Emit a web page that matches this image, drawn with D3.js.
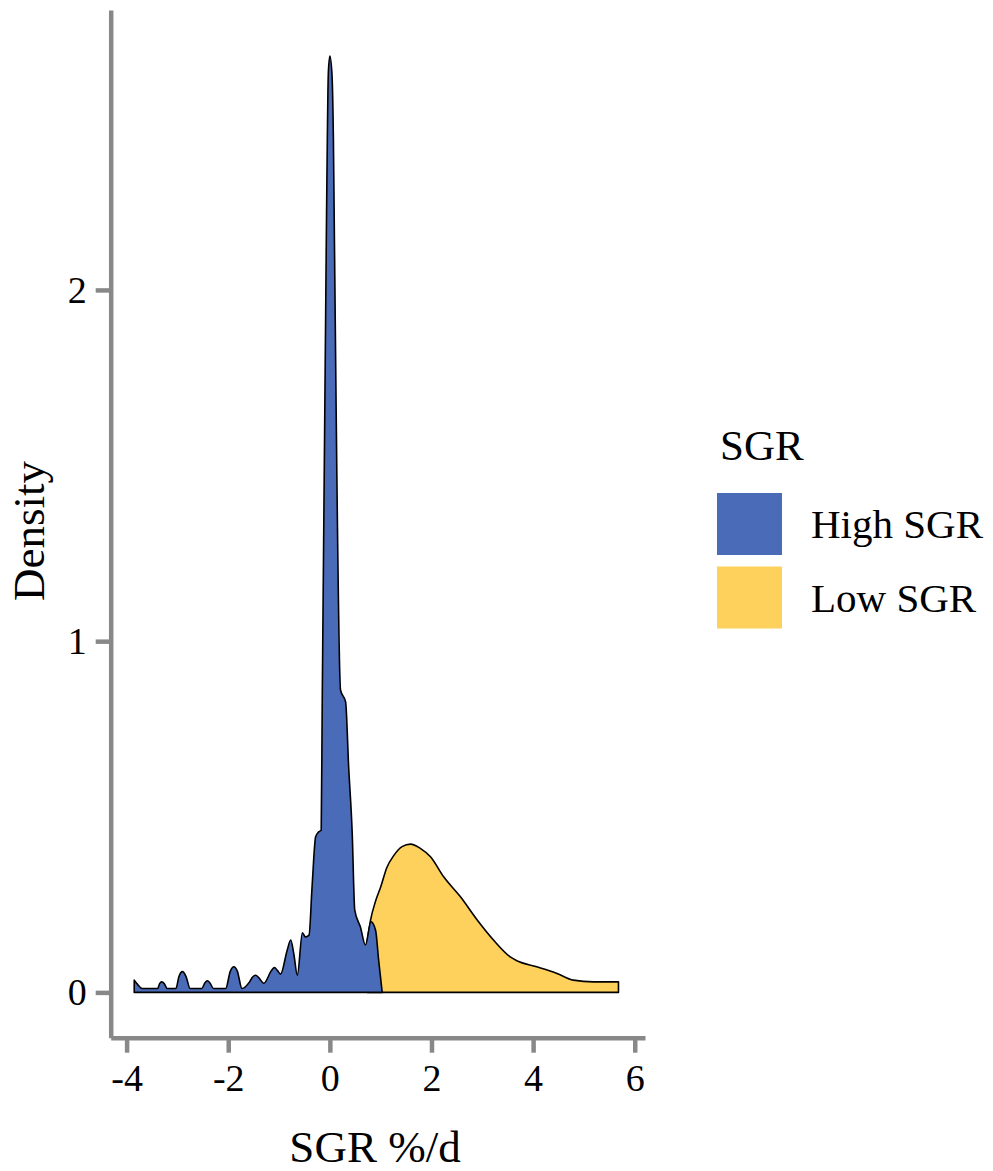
<!DOCTYPE html>
<html>
<head>
<meta charset="utf-8">
<script src="https://cdn.jsdelivr.net/npm/d3@7"></script>
<style>
  body { margin: 0; background: #fff; }
  text { font-family: "Liberation Serif", "Times New Roman", serif; fill: #000; }
</style>
</head>
<body>
<div id="chart"></div>
<script>
// density values: [SGR %/d, density]
var highSGR = [
  [-3.85, 0.035], [-3.78, 0.022], [-3.69, 0.011], [-3.39, 0.011], [-3.35, 0.025],
  [-3.31, 0.030], [-3.26, 0.025], [-3.20, 0.011], [-3.03, 0.011], [-2.97, 0.045],
  [-2.90, 0.059], [-2.83, 0.045], [-2.75, 0.011], [-2.52, 0.011], [-2.46, 0.027],
  [-2.41, 0.033], [-2.36, 0.027], [-2.29, 0.011], [-2.05, 0.011], [-1.96, 0.060],
  [-1.89, 0.073], [-1.82, 0.060], [-1.73, 0.011], [-1.58, 0.030], [-1.52, 0.044],
  [-1.46, 0.049], [-1.40, 0.042], [-1.30, 0.026], [-1.15, 0.062], [-1.09, 0.071],
  [-1.03, 0.062], [-0.97, 0.052], [-0.84, 0.120], [-0.77, 0.149], [-0.71, 0.110],
  [-0.64, 0.049], [-0.54, 0.170], [-0.48, 0.158], [-0.41, 0.163], [-0.35, 0.301],
  [-0.28, 0.443], [-0.22, 0.457], [-0.17, 0.462], [-0.15, 0.832], [-0.07, 2.142],
  [-0.05, 2.427], [-0.03, 2.618], [0.00, 2.666], [0.04, 2.618], [0.07, 2.427],
  [0.09, 2.142], [0.21, 0.861], [0.31, 0.827], [0.37, 0.642], [0.44, 0.454],
  [0.49, 0.234], [0.60, 0.187], [0.70, 0.135], [0.81, 0.201], [0.90, 0.177],
  [0.96, 0.092], [1.03, 0.0]
];
var lowSGR = [
  [0.74, 0.150], [0.80, 0.205], [0.90, 0.260], [1.00, 0.300], [1.12, 0.355],
  [1.26, 0.390], [1.42, 0.415], [1.59, 0.422], [1.78, 0.410], [1.98, 0.386],
  [2.24, 0.329], [2.57, 0.272], [2.90, 0.206], [3.22, 0.149], [3.55, 0.101],
  [3.68, 0.090], [4.07, 0.073], [4.47, 0.054], [4.79, 0.035], [5.19, 0.030],
  [5.68, 0.030]
];
var groups = ["High SGR", "Low SGR"];
var colors = ["#4a6bb8", "#fed05c"];
var xTicks = [-4, -2, 0, 2, 4, 6];
var yTicks = [0, 1, 2];

var width = 993, height = 1171;

var svg = d3.select("#chart")
  .append("svg")
    .attr("width", width)
    .attr("height", height);

// panel edges in px
var pLeft = 110.7, pRight = 645, pTop = 10, pBottom = 1037.7;

var x = d3.scaleLinear()
  .domain([-4.313, 6.202])
  .range([pLeft, pRight]);

var y = d3.scaleLinear()
  .domain([-0.129, 2.797])
  .range([pBottom, pTop]);

var area = d3.area()
  .x(function(d) { return x(d[0]); })
  .y0(y(0))
  .y1(function(d) { return y(d[1]); })
  .curve(d3.curveMonotoneX);

// low first so high sits on top
svg.append("path")
  .datum(lowSGR)
  .attr("d", area)
  .attr("fill", colors[1])
  .attr("stroke", "#000")
  .attr("stroke-width", 1.6)
  .attr("stroke-linejoin", "round");

svg.append("path")
  .datum(highSGR)
  .attr("d", area)
  .attr("fill", colors[0])
  .attr("stroke", "#000")
  .attr("stroke-width", 1.6)
  .attr("stroke-linejoin", "round");

// axes
var xAxis = svg.append("g")
  .attr("transform", "translate(0," + pBottom + ")")
  .call(d3.axisBottom(x).tickValues(xTicks).tickSize(15).tickSizeOuter(0).tickPadding(11)
    .tickFormat(d3.format("d")));

var yAxis = svg.append("g")
  .attr("transform", "translate(" + pLeft + ",0)")
  .call(d3.axisLeft(y).tickValues(yTicks).tickSize(15).tickSizeOuter(0).tickPadding(9)
    .tickFormat(d3.format("d")));

[xAxis, yAxis].forEach(function(a) {
  a.select(".domain").attr("stroke", "#888").attr("stroke-width", 4.5);
  a.selectAll(".tick line").attr("stroke", "#888").attr("stroke-width", 4.5);
  a.selectAll(".tick text")
    .attr("font-size", 38)
    .attr("font-family", "Liberation Serif")
    .attr("fill", "#000");
});
xAxis.selectAll(".tick text").text(function(d) { return d < 0 ? "-" + Math.abs(d) : d; });

// axis titles
svg.append("text")
  .attr("text-anchor", "middle")
  .attr("x", 375)
  .attr("y", 1162)
  .attr("font-size", 45)
  .text("SGR %/d");

svg.append("text")
  .attr("text-anchor", "middle")
  .attr("transform", "translate(44," + 531 + ") rotate(-90)")
  .attr("font-size", 45)
  .text("Density");

// legend
var legend = svg.append("g");
legend.append("text")
  .attr("x", 720)
  .attr("y", 460)
  .attr("font-size", 43)
  .text("SGR");

var keys = legend.selectAll("g.key")
  .data(groups)
  .enter()
  .append("g")
    .attr("class", "key")
    .attr("transform", function(d, i) { return "translate(717," + (493 + i * 73.5) + ")"; });

keys.append("rect")
  .attr("width", 65)
  .attr("height", 62)
  .attr("fill", function(d, i) { return colors[i]; });

keys.append("text")
  .attr("x", 94)
  .attr("y", 45)
  .attr("font-size", 41)
  .text(function(d) { return d; });
</script>
</body>
</html>
